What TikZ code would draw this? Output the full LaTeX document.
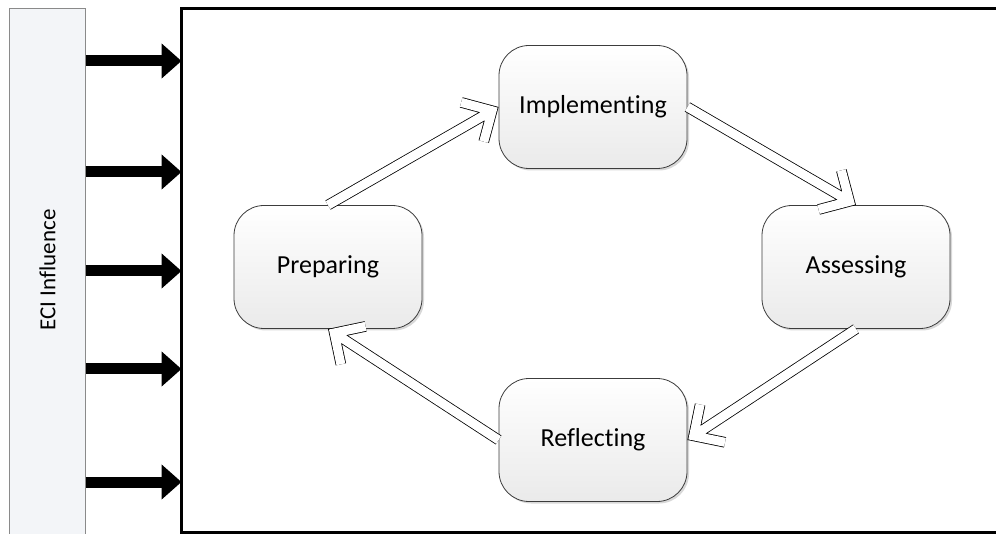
\documentclass[tikz,border=0pt]{standalone}
\usepackage{fontspec}
\setmainfont{Carlito}[Ligatures=NoCommon]
\usetikzlibrary{calc,arrows.meta,shadows}

\definecolor{panelfill}{HTML}{F3F5F8}
\definecolor{panelline}{HTML}{8A8A8A}
\definecolor{stageline}{HTML}{3C3C3C}
\definecolor{stagebottom}{HTML}{EAEAEA}

% hollow cycle arrow between two points: outline of a thick barbed stroke
\newcommand\cyclearrow[2]{%
  \coordinate (ca-tail) at (#1);
  \coordinate (ca-end) at (#2);
  \coordinate (ca-tip) at ($(ca-end)!7.5pt!(ca-tail)$);
  \coordinate (ca-w1) at ($(ca-tip)!32pt!45:(ca-tail)$);
  \coordinate (ca-w2) at ($(ca-tip)!32pt!-45:(ca-tail)$);
  \draw[cycle outer] (ca-tail) -- (ca-tip) (ca-w1) -- (ca-tip) -- (ca-w2);
  \draw[cycle inner] (ca-tail) -- (ca-tip) (ca-w1) -- (ca-tip) -- (ca-w2);
}

\begin{document}
\begin{tikzpicture}[x=1pt,y=-1pt,
  stage/.style={draw=stageline, line width=0.8pt, rounded corners=30pt,
    minimum width=188pt, minimum height=123pt, inner sep=0pt,
    top color=white, bottom color=stagebottom,
    font=\fontsize{26}{31}\selectfont,
    drop shadow={shadow xshift=2pt, shadow yshift=-2pt, fill=black!30, opacity=0.5}},
  influence/.style={-{Triangle[length=20pt,width=34pt]}, line width=11pt, black},
  cycle outer/.style={line width=10.6pt, black, miter limit=10},
  cycle inner/.style={line width=9pt, white, miter limit=10},
]
\useasboundingbox (0,0) rectangle (996,534);

% influence panel on the left
\node[draw=panelline, fill=panelfill, line width=0.8pt, outer sep=0pt,
      anchor=north west, minimum width=76pt, minimum height=540pt] (eci) at (9.5,8.5) {};
\node[rotate=90, font=\fontsize{23}{28}\selectfont] (eci-label) at (47.5,270) {ECI Influence};

% framed context
\node[draw, line width=3pt, outer sep=0pt, anchor=north west,
      minimum width=840pt, minimum height=523.5pt] (frame) at (181.5,8.5) {};

% influence arrows
\foreach \yy in {61,172,271,369,482}
  \draw[influence] (eci.east |- 0,\yy) -- (frame.west |- 0,\yy);

% cycle stages
\node[stage] (impl)   at (593,107) {\raisebox{-2pt}{Implementing}};
\node[stage] (prep)   at (328,267) {\raisebox{-2pt}{Preparing}};
\node[stage] (assess) at (856,267) {\raisebox{-2pt}{Assessing}};
\node[stage] (refl)   at (593,440) {\raisebox{-2pt}{Reflecting}};

% cycle connectors
\cyclearrow{prep.north}{impl.west}
\cyclearrow{impl.east}{assess.north}
\cyclearrow{assess.south}{refl.east}
\cyclearrow{refl.west}{prep.south}

\end{tikzpicture}
\end{document}
